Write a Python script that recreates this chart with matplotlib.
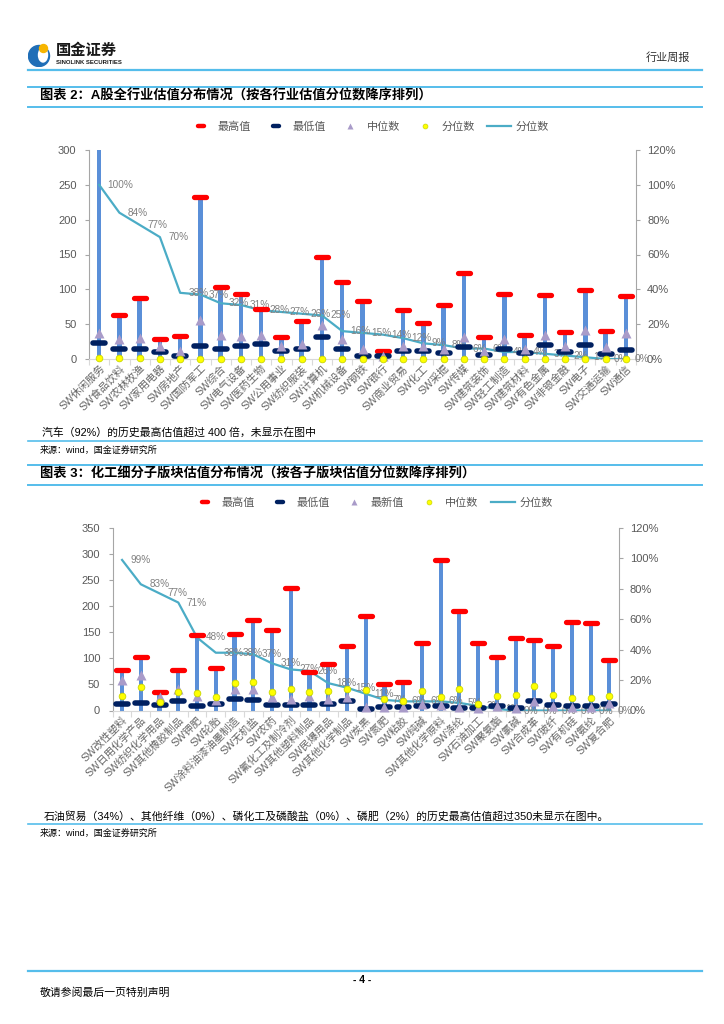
import numpy as np
import matplotlib
matplotlib.use("Agg")
import matplotlib.pyplot as plt
from matplotlib.lines import Line2D
from matplotlib.markers import MarkerStyle
from matplotlib.patches import Circle, Ellipse
from matplotlib.ticker import PercentFormatter

plt.rcParams["font.family"] = ["Liberation Sans", "Noto Sans CJK SC"]
plt.rcParams["axes.unicode_minus"] = False

W, H = 724, 1024

# ---- 图表2: A股全行业 ----
ind_names = ["SW休闲服务", "SW食品饮料", "SW农林牧渔", "SW家用电器", "SW房地产", "SW国防军工",
             "SW综合", "SW电气设备", "SW医药生物", "SW公用事业", "SW纺织服装", "SW计算机",
             "SW机械设备", "SW钢铁", "SW银行", "SW商业贸易", "SW化工", "SW采掘", "SW传媒",
             "SW建筑装饰", "SW轻工制造", "SW建筑材料", "SW有色金属", "SW非银金融", "SW电子",
             "SW交通运输", "SW通信"]
ind_high = [360, 63, 88, 29, 33, 233, 104, 93, 72, 31, 55, 146, 110, 83, 11, 71, 52, 78,
            124, 31, 93, 34, 92, 39, 99, 40, 90]
ind_low = [23, 15, 15, 10, 5, 18, 15, 19, 22, 11, 15, 31, 15, 4, 4, 11, 11, 8, 17, 6, 15,
           9, 20, 10, 20, 7, 13]
ind_median = [38, 28, 30, 18, 12, 56, 34, 33, 35, 18, 22, 49, 28, 15, 5, 19, 18, 15, 32,
              11, 28, 15, 35, 18, 42, 17, 37]
ind_pct = [100, 84, 77, 70, 38, 37, 32, 31, 28, 27, 26, 25, 16, 15, 14, 12, 9, 8, 6, 6, 4,
           4, 3, 2, 1, 0, 0]

# ---- 图表3: 化工细分子版块 ----
chem_names = ["SW改性塑料", "SW日用化学产品", "SW纺织化学用品", "SW其他橡胶制品", "SW钾肥",
              "SW轮胎", "SW涂料油漆油墨制造", "SW无机盐", "SW农药", "SW氟化工及制冷剂",
              "SW其他塑料制品", "SW民爆用品", "SW其他化学制品", "SW炭黑", "SW氮肥", "SW粘胶",
              "SW纯碱", "SW其他化学原料", "SW涤纶", "SW石油加工", "SW聚氨酯", "SW氯碱",
              "SW合成革", "SW玻纤", "SW有机硅", "SW氨纶", "SW复合肥"]
chem_high = [78, 103, 36, 78, 144, 82, 146, 173, 154, 234, 73, 89, 124, 182, 50, 54, 129,
             288, 190, 129, 102, 139, 136, 123, 170, 168, 97]
chem_low = [12, 15, 10, 19, 9, 12, 22, 20, 11, 11, 10, 12, 19, 3, 6, 6, 8, 8, 5, 5, 8, 5,
            19, 10, 8, 8, 12]
chem_latest = [58, 68, 25, 42, 28, 20, 41, 41, 25, 23, 27, 22, 25, 6, 6, 6, 12, 10, 7, 4, 8,
               5, 18, 8, 7, 7, 14]
chem_median = [27, 46, 16, 35, 33, 25, 52, 54, 35, 42, 36, 38, 42, 40, 22, 18, 38, 25, 42,
               12, 27, 29, 47, 30, 24, 24, 27]
chem_pct = [99, 83, 77, 71, 48, 38, 38, 37, 31, 27, 26, 18, 15, 11, 7, 6, 6, 6, 5, 3, 1, 0,
            0, 0, 0, 0, 0]

BAR = "#5A8FD8"
RED = "#FF0000"
NAVY = "#002060"
PURPLE = "#A99BC9"
YELLOW = "#FFFF00"
LINE = "#4BACC6"
TXT = "#595959"
PCT_TXT = "#808080"
RULE = "#55BDEB"
AXIS = "#A6A6A6"

dash = MarkerStyle("_", capstyle="round")

fig = plt.figure(figsize=(W / 100, H / 100), dpi=100)


def fx(px):
    return px / W


def fy(py):
    return 1 - py / H


def rule(y, x0=28, x1=702, lw=1.4):
    fig.add_artist(Line2D([fx(x0), fx(x1)], [fy(y), fy(y)], transform=fig.transFigure,
                          color=RULE, lw=lw))


def draw_panel(rect, names, high, low, tri, dot, pct, ymax, ystep):
    ax = fig.add_axes(rect)
    ax2 = ax.twinx()
    n = len(names)
    x = np.arange(n)

    ax.bar(x, high, width=0.22, color=BAR, zorder=2)
    ax.set_xlim(-0.5, n - 0.5)
    ax.set_ylim(0, ymax)
    ax.set_yticks(np.arange(0, ymax + 1, ystep))
    ax.set_xticks(x, names, rotation=45, ha="right", va="top", rotation_mode="anchor",
                  fontsize=7.6, color="#666666")
    ax.set_xticks(np.arange(-0.5, n, 1), minor=True)
    ax.tick_params(axis="x", which="major", length=0, pad=3)
    ax.tick_params(axis="x", which="minor", length=4, color="#D9D9D9", width=0.8)
    ax.tick_params(axis="y", length=3, color=AXIS, labelcolor=TXT, labelsize=8, pad=6)
    for s in ["top", "right"]:
        ax.spines[s].set_visible(False)
    ax.spines["left"].set_color(AXIS)
    ax.spines["bottom"].set_color("#D9D9D9")

    ax2.set_ylim(0, 1.2)
    ax2.set_yticks(np.arange(0, 1.21, 0.2))
    ax2.yaxis.set_major_formatter(PercentFormatter(1.0, decimals=0))
    ax2.tick_params(axis="y", length=3, color=AXIS, labelcolor=TXT, labelsize=8, pad=5)
    for s in ["top", "left", "bottom"]:
        ax2.spines[s].set_visible(False)
    ax2.spines["right"].set_color(AXIS)

    p = np.array(pct) / 100
    ax2.plot(x, p, color=LINE, lw=1.6, zorder=3)
    for i, v in enumerate(pct):
        ax2.annotate(f"{v}%", xy=(i, v / 100), xytext=(6, 0), textcoords="offset points",
                     ha="left", va="center", fontsize=7.2, color=PCT_TXT, zorder=4)

    t = ax.transData
    ax2.plot(x, high, ls="none", marker=dash, ms=8, mew=3.8, color=RED, transform=t,
             zorder=5)
    ax2.plot(x, low, ls="none", marker=dash, ms=8, mew=4.0, color=NAVY, transform=t,
             zorder=5, clip_on=False)
    ax2.plot(x, tri, ls="none", marker="^", ms=7, color=PURPLE, mec="none", transform=t,
             zorder=6, clip_on=False)
    ax2.plot(x, dot, ls="none", marker="o", ms=4.8, mfc=YELLOW, mec="#C9D600", mew=0.6,
             transform=t, zorder=7, clip_on=False)
    return ax


def legend(cx, cy, labels):
    handles = [
        Line2D([], [], ls="none", marker=dash, ms=5, mew=3.2, color=RED),
        Line2D([], [], ls="none", marker=dash, ms=5, mew=3.2, color=NAVY),
        Line2D([], [], ls="none", marker="^", ms=4.5, color=PURPLE, mec="none"),
        Line2D([], [], ls="none", marker="o", ms=3.5, mfc=YELLOW, mec="#C9D600", mew=0.5),
        Line2D([], [], color=LINE, lw=1.6),
    ]
    fig.legend(handles, labels, loc="center", bbox_to_anchor=(fx(cx), fy(cy)), ncol=5,
               frameon=False, fontsize=8, labelcolor=TXT, handlelength=2.2,
               handletextpad=0.4, columnspacing=1.1)


# ---- header ----
logo = fig.add_axes([fx(28), fy(67), fx(24), 24 / H])
logo.set_xlim(0, 24)
logo.set_ylim(0, 24)
logo.set_aspect("equal")
logo.axis("off")
logo.add_patch(Circle((11, 11), 10.5, color="#1F6EB7"))
logo.add_patch(Ellipse((15, 12), 9, 14, color="white"))
logo.add_patch(Circle((15.5, 18.5), 4, color="#F7B500"))
fig.text(fx(56), fy(51), "国金证券", fontsize=11, fontweight="bold", color="#1A1A1A",
         va="center")
fig.text(fx(56), fy(62.5), "SINOLINK SECURITIES", fontsize=4.3, fontweight="bold",
         color="#1A1A1A", va="center")
fig.text(fx(690), fy(58), "行业周报", fontsize=8, color="#333333", ha="right", va="center")
rule(70, lw=1.6)

# ---- chart 1 ----
rule(87)
fig.text(fx(40), fy(96.5), "图表 2：A股全行业估值分布情况（按各行业估值分位数降序排列）",
         fontsize=9.5, fontweight="bold", color="black", va="center")
rule(106.5)
legend(369, 127, ["最高值", "最低值", "中位数", "分位数", "分位数"])
draw_panel([fx(89), fy(359), fx(636) - fx(89), (359 - 150) / H], ind_names, ind_high,
           ind_low, ind_median, np.array(ind_pct) / 100, ind_pct, 300, 50)
fig.text(fx(42), fy(432), "汽车（92%）的历史最高估值超过 400 倍，未显示在图中", fontsize=7.8,
         color="black", va="center")
rule(441, lw=1.2)
fig.text(fx(40), fy(450), "来源：wind，国金证券研究所", fontsize=6.5, color="black",
         va="center")

# ---- chart 2 ----
rule(465)
fig.text(fx(40), fy(474), "图表 3：化工细分子版块估值分布情况（按各子版块估值分位数降序排列）",
         fontsize=9.5, fontweight="bold", color="black", va="center")
rule(485)
legend(373, 503, ["最高值", "最低值", "最新值", "中位数", "分位数"])
draw_panel([fx(112.7), fy(710.5), fx(618.7) - fx(112.7), (710.5 - 528) / H], chem_names,
           chem_high, chem_low, chem_latest, chem_median, chem_pct, 350, 50)
fig.text(fx(44), fy(816),
         "石油贸易（34%）、其他纤维（0%）、磷化工及磷酸盐（0%）、磷肥（2%）的历史最高估值超过350未显示在图中。",
         fontsize=7.8, color="black", va="center")
rule(824, lw=1.2)
fig.text(fx(40), fy(833), "来源：wind，国金证券研究所", fontsize=6.5, color="black",
         va="center")

# ---- footer ----
rule(971, lw=1.6)
fig.text(fx(362), fy(980), "- 4 -", fontsize=7.5, fontweight="bold", ha="center",
         va="center")
fig.text(fx(40), fy(993), "敬请参阅最后一页特别声明", fontsize=7.8, color="black",
         va="center")

fig.savefig("out.png", dpi=100)
print("Saved")
